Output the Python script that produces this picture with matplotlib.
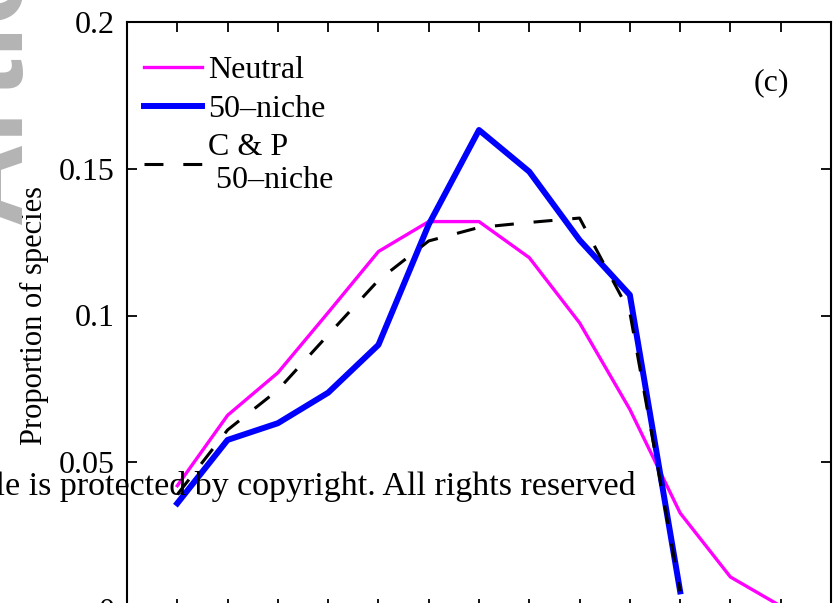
import numpy as np
import matplotlib.pyplot as plt

plt.rcParams['font.family'] = ['Liberation Serif', 'DejaVu Serif']

# species abundance class (x) and proportion of species per class
x_neutral = np.arange(1, 14)
neutral = [0.042, 0.066, 0.0805, 0.101, 0.1218, 0.132, 0.132, 0.1197, 0.0975,
           0.068, 0.0327, 0.0109, 0.001]

x_niche = np.arange(1, 12)
niche50 = [0.036, 0.0576, 0.0633, 0.0737, 0.090, 0.131, 0.1632, 0.149, 0.1257,
           0.107, 0.006]
cp_niche50 = [0.039, 0.061, 0.0746, 0.0934, 0.112, 0.1254, 0.130, 0.1317,
              0.1332, 0.101, 0.006]

yticks = [0, 0.05, 0.1, 0.15, 0.2]
yticklabels = ["0", "0.05", "0.1", "0.15", "0.2"]

W, H = 835, 603
fig = plt.figure(figsize=(W / 100, H / 100), dpi=100)
ax = fig.add_axes([127 / W, 1 - 609 / H, (831 - 127) / W, 587 / H])

ax.plot(x_neutral, neutral, color='#ff00ff', lw=2.4, label='Neutral')
ax.plot(x_niche, niche50, color='#0000ff', lw=4.3, label='50\u2013niche')
ax.plot(x_niche, cp_niche50, color='black', lw=2.2, ls=(0, (6.2, 6.5)),
        label='C & P\n 50\u2013niche')

ax.set_xlim(0, 14)
ax.set_ylim(0, 0.2)
ax.set_xticks(np.arange(0, 15))
ax.set_xticklabels([])
ax.set_yticks(yticks)
ax.set_yticklabels(yticklabels)
ax.tick_params(direction='in', length=7, width=1.3, top=True, right=True,
               labelsize=23, pad=9)
for sp in ax.spines.values():
    sp.set_linewidth(1.5)

ax.set_ylabel('Proportion of species', fontsize=22, labelpad=7)

ax.text(0.916, 0.896, '(c)', transform=ax.transAxes, fontsize=23,
        ha='center', va='center')

ax.legend(loc='upper left', bbox_to_anchor=(-0.007, 0.98), frameon=False,
          fontsize=23, handlelength=1.8, handletextpad=0.2, labelspacing=0.28,
          borderaxespad=0.3)

# journal watermarks
fig.text(636 / W, 1 - 486 / H,
         'This article is protected by copyright. All rights reserved',
         fontsize=24.5, ha='right', va='center')
fig.text(20 / W, 1 - 225 / H, 'Article', rotation=90, rotation_mode='anchor',
         fontsize=85, family='Liberation Sans', weight='bold',
         color='#b4b4b4', ha='left', va='baseline', zorder=0)

fig.savefig('out.png', dpi=100)
